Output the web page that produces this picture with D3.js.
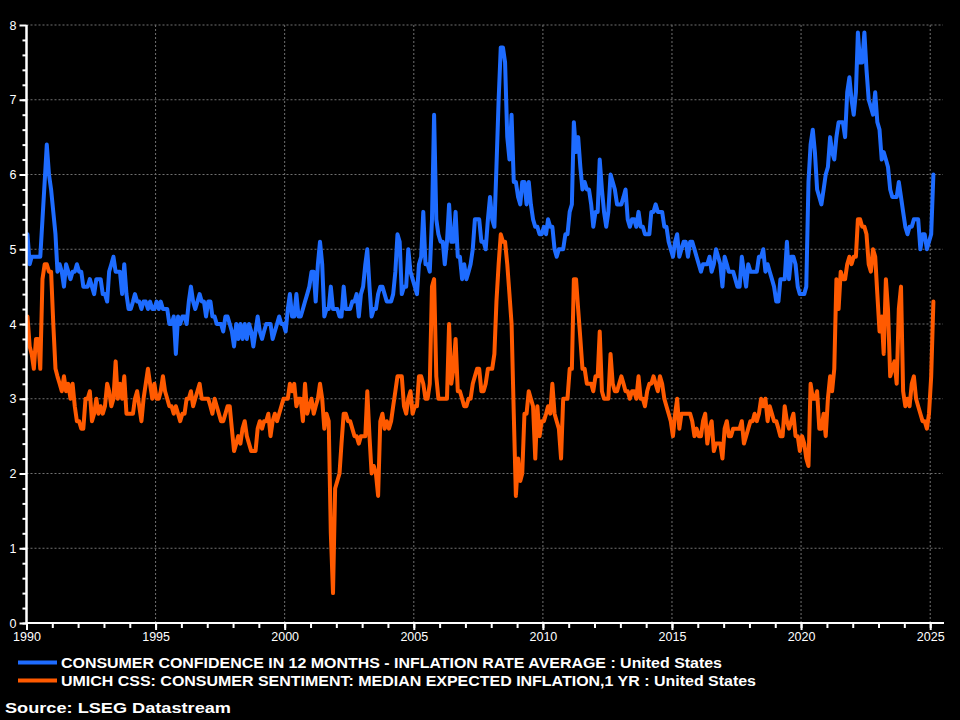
<!DOCTYPE html>
<html>
<head>
<meta charset="utf-8">
<script src="https://cdn.jsdelivr.net/npm/d3@7"></script>
<style>
html,body{margin:0;padding:0;background:#000;}
svg{display:block;}
</style>
</head>
<body>
<svg id="chart" width="960" height="720"></svg>
<script>
// ---------------- DATA (monthly, Jan 1990 - Feb 2025) ----------------
const firstYear = 1990;
const yTickValues = [0, 1, 2, 3, 4, 5, 6, 7, 8];
const xLabelYears = [1990, 1995, 2000, 2005, 2010, 2015, 2020, 2025];
const seriesNames = [
  "CONSUMER CONFIDENCE IN 12 MONTHS - INFLATION RATE AVERAGE : United States",
  "UMICH CSS: CONSUMER SENTIMENT: MEDIAN EXPECTED INFLATION,1 YR : United States"
];
const sourceText = "Source: LSEG Datastream";

// Conference Board: expected inflation rate, 12 months ahead
const confBoardValues = [
  5.2,4.8,4.9,4.9,4.9,4.9,4.9,5.4,5.9,6.4,6.0,5.8, // 1990
  5.5,5.2,4.7,4.8,4.7,4.5,4.8,4.7,4.6,4.7,4.7,4.8, // 1991
  4.7,4.7,4.5,4.5,4.5,4.6,4.5,4.4,4.6,4.6,4.6,4.4, // 1992
  4.4,4.3,4.7,4.8,4.9,4.7,4.7,4.7,4.4,4.8,4.4,4.2, // 1993
  4.2,4.3,4.4,4.3,4.3,4.2,4.3,4.3,4.2,4.3,4.2,4.2, // 1994
  4.3,4.2,4.3,4.2,4.2,4.2,4.0,4.0,4.1,3.6,4.1,4.0, // 1995
  4.1,4.1,4.0,4.3,4.5,4.3,4.2,4.3,4.4,4.3,4.3,4.1, // 1996
  4.3,4.3,4.1,4.1,4.0,4.0,4.0,3.9,4.1,4.1,4.0,3.9, // 1997
  3.7,4.0,3.8,4.0,3.8,4.0,3.8,4.0,3.9,3.7,3.9,4.1, // 1998
  3.9,3.8,3.9,4.0,4.0,4.0,3.8,3.9,4.0,4.1,4.0,4.0, // 1999
  3.9,4.2,4.4,4.1,4.1,4.4,4.1,4.1,4.2,4.3,4.4,4.5, // 2000
  4.7,4.7,4.3,4.8,5.1,4.8,4.1,4.2,4.2,4.5,4.2,4.2, // 2001
  4.2,4.1,4.1,4.5,4.2,4.2,4.2,4.3,4.3,4.4,4.1,4.4, // 2002
  4.5,4.8,5.0,4.5,4.1,4.2,4.2,4.4,4.5,4.5,4.4,4.3, // 2003
  4.3,4.3,4.4,4.7,5.2,5.1,4.4,4.5,4.5,5.0,4.7,4.6, // 2004
  4.5,4.4,4.8,4.9,5.5,4.8,4.8,4.7,5.4,6.8,5.4,5.2, // 2005
  5.1,5.1,4.8,5.1,5.6,5.1,5.1,5.5,4.9,4.9,4.6,4.8, // 2006
  4.6,4.7,4.8,5.0,5.4,5.4,5.4,5.1,5.1,5.0,5.4,5.7, // 2007
  5.4,5.3,6.1,7.0,7.7,7.7,7.5,6.5,6.2,6.8,5.9,5.9, // 2008
  5.7,5.6,5.9,5.9,5.6,5.9,5.6,5.4,5.3,5.3,5.2,5.2, // 2009
  5.3,5.2,5.4,5.3,5.3,5.0,4.9,5.0,5.0,5.0,5.2,5.2, // 2010
  5.5,5.6,6.7,6.3,6.5,6.1,5.8,5.9,5.8,5.8,5.6,5.3, // 2011
  5.5,5.5,6.2,5.8,5.5,5.3,5.5,6.0,5.9,5.8,5.6,5.6, // 2012
  5.6,5.7,5.8,5.4,5.3,5.4,5.4,5.3,5.5,5.3,5.3,5.2, // 2013
  5.2,5.2,5.5,5.5,5.6,5.5,5.5,5.5,5.3,5.3,5.1,5.0, // 2014
  4.9,5.1,5.2,4.9,5.0,5.1,5.1,4.9,5.1,5.1,5.0,4.9, // 2015
  4.8,4.7,4.8,4.8,4.8,4.9,4.7,4.8,5.0,4.9,4.8,4.5, // 2016
  4.9,4.8,4.7,4.7,4.7,4.6,4.5,4.5,4.9,4.7,4.5,4.8, // 2017
  4.7,4.7,4.7,4.7,4.9,4.9,5.0,4.7,4.8,4.7,4.6,4.5, // 2018
  4.3,4.3,4.6,4.6,4.6,5.1,4.6,4.9,4.9,4.8,4.5,4.4, // 2019
  4.4,4.4,4.5,5.9,6.4,6.6,6.3,5.8,5.7,5.6,5.8,6.0, // 2020
  6.1,6.5,6.3,6.2,6.5,6.7,6.7,6.7,6.5,7.1,7.3,7.0, // 2021
  6.8,7.1,7.9,7.5,7.5,7.9,7.4,7.0,6.9,6.8,7.1,6.7, // 2022
  6.6,6.2,6.3,6.2,6.1,5.8,5.7,5.7,5.7,5.9,5.7,5.5, // 2023
  5.3,5.2,5.3,5.3,5.4,5.4,5.4,5.0,5.2,5.2,5.0,5.1, // 2024
  5.2,6.0                                          // 2025
];

// University of Michigan: median expected inflation, 1 year
const umichValues = [
  4.1,3.7,3.6,3.4,3.8,3.8,3.4,4.6,4.8,4.8,4.7,4.7, // 1990
  4.0,3.4,3.3,3.2,3.1,3.3,3.1,3.2,3.0,3.2,2.9,2.7, // 1991
  2.7,2.6,2.6,3.0,3.0,3.1,2.7,2.8,3.0,2.8,2.9,2.8, // 1992
  2.9,3.2,3.1,2.9,3.0,3.5,3.0,3.2,3.0,3.3,2.8,2.8, // 1993
  2.8,2.8,3.0,3.1,2.9,2.7,3.0,3.2,3.4,3.2,3.0,3.2, // 1994
  3.0,3.0,3.1,3.3,3.1,3.0,2.9,2.9,2.8,2.9,2.8,2.7, // 1995
  2.8,2.8,3.0,3.0,3.1,2.9,3.0,3.1,3.2,3.0,3.0,3.0, // 1996
  3.0,2.9,2.8,3.0,2.9,2.8,2.7,2.7,2.8,2.9,2.9,2.6, // 1997
  2.3,2.4,2.5,2.4,2.6,2.7,2.5,2.4,2.3,2.3,2.3,2.6, // 1998
  2.7,2.6,2.7,2.7,2.8,2.5,2.7,2.8,2.7,2.8,2.9,3.0, // 1999
  3.0,3.0,3.2,3.1,3.2,2.9,3.0,3.0,2.7,3.2,2.8,2.9, // 2000
  3.0,2.8,2.9,3.0,3.2,3.0,2.6,2.8,2.7,1.2,0.4,1.8, // 2001
  1.9,2.0,2.4,2.8,2.8,2.7,2.7,2.6,2.5,2.5,2.4,2.5, // 2002
  2.5,2.5,3.1,2.5,2.0,2.1,2.0,1.7,2.7,2.8,2.6,2.7, // 2003
  2.6,2.7,2.9,3.1,3.3,3.3,3.3,2.9,2.8,3.0,3.1,2.8, // 2004
  2.9,2.9,3.3,3.3,3.2,3.0,3.0,3.2,4.5,4.6,3.3,3.0, // 2005
  3.0,3.0,3.0,3.0,4.0,3.2,3.4,3.8,3.1,3.1,3.0,2.9, // 2006
  2.9,3.0,3.0,3.2,3.3,3.4,3.4,3.1,3.1,3.2,3.4,3.4, // 2007
  3.4,3.6,4.3,4.8,5.2,5.1,5.1,4.8,4.4,4.0,2.8,1.7, // 2008
  2.2,1.9,2.0,2.8,2.8,3.1,3.0,2.9,2.2,2.9,2.5,2.7, // 2009
  2.7,2.8,2.9,2.8,3.2,2.8,2.7,2.6,2.2,3.0,3.0,3.0, // 2010
  3.4,3.4,4.6,4.6,4.2,3.8,3.4,3.4,3.2,3.2,3.2,3.1, // 2011
  3.3,3.3,3.9,3.1,3.0,3.0,3.0,3.6,3.2,3.1,3.1,3.2, // 2012
  3.3,3.2,3.1,3.1,3.0,3.1,3.1,3.0,3.3,3.0,3.0,2.9, // 2013
  3.1,3.2,3.2,3.3,3.2,3.1,3.3,3.2,3.0,2.9,2.8,2.7, // 2014
  2.5,2.8,3.0,2.6,2.8,2.8,2.8,2.8,2.8,2.7,2.5,2.6, // 2015
  2.5,2.5,2.7,2.8,2.4,2.6,2.7,2.3,2.4,2.4,2.4,2.2, // 2016
  2.6,2.7,2.5,2.5,2.6,2.6,2.6,2.6,2.7,2.4,2.5,2.6, // 2017
  2.7,2.7,2.8,2.7,2.8,3.0,2.9,3.0,2.7,2.9,2.8,2.7, // 2018
  2.7,2.6,2.5,2.5,2.9,2.7,2.6,2.7,2.8,2.5,2.5,2.3, // 2019
  2.5,2.4,2.2,2.1,3.2,3.0,3.0,3.1,2.6,2.6,2.8,2.5, // 2020
  3.0,3.3,3.1,3.4,4.6,4.2,4.7,4.6,4.6,4.8,4.9,4.8, // 2021
  4.9,4.9,5.4,5.4,5.3,5.3,5.2,4.8,4.7,5.0,4.9,4.4, // 2022
  3.9,4.1,3.6,4.6,4.2,3.3,3.4,3.5,3.2,4.2,4.5,3.1, // 2023
  2.9,3.0,2.9,3.2,3.3,3.0,2.9,2.8,2.7,2.7,2.6,2.8, // 2024
  3.3,4.3                                          // 2025
];

// ---------------- STYLE / LAYOUT ----------------
const W = 960, H = 720;
const plot = { left: 26.5, right: 943, top: 25, bottom: 623 };
const colors = { blue: "#1e6cff", orange: "#ff5a00", grid: "#707070", axis: "#ffffff", text: "#ffffff" };
const tickFont = "'Liberation Sans', Arial, sans-serif";

const svg = d3.select("#chart");
svg.append("rect").attr("width", W).attr("height", H).attr("fill", "#000");

const x = d3.scaleTime()
  .domain([new Date(firstYear, 0, 1), new Date(2025, 6, 1)])
  .range([plot.left, plot.right]);
const y = d3.scaleLinear().domain([0, 8]).range([plot.bottom, plot.top]);

const monthDate = i => new Date(firstYear, i, 15);
const blueData = confBoardValues.map((v, i) => ({ date: monthDate(i), value: v }));
const orangeData = umichValues.map((v, i) => ({ date: monthDate(i), value: v }));

// Grid lines
const grid = svg.append("g").attr("class", "grid");
grid.selectAll("line.h").data(yTickValues.filter(d => d > 0)).join("line")
  .attr("class", "h")
  .attr("x1", plot.left).attr("x2", plot.right)
  .attr("y1", d => y(d)).attr("y2", d => y(d))
  .attr("stroke", colors.grid).attr("stroke-width", 1).attr("stroke-dasharray", "2,2");
grid.selectAll("line.v").data(xLabelYears.filter(d => d > firstYear)).join("line")
  .attr("class", "v")
  .attr("x1", d => x(new Date(d, 0, 1))).attr("x2", d => x(new Date(d, 0, 1)))
  .attr("y1", plot.top).attr("y2", plot.bottom)
  .attr("stroke", colors.grid).attr("stroke-width", 1).attr("stroke-dasharray", "2,2");

// Lines
const line = d3.line().x(d => x(d.date)).y(d => y(d.value));
svg.append("path").datum(blueData)
  .attr("fill", "none").attr("stroke", colors.blue).attr("stroke-width", 4)
  .attr("stroke-linejoin", "round").attr("stroke-linecap", "round").attr("d", line);
svg.append("path").datum(orangeData)
  .attr("fill", "none").attr("stroke", colors.orange).attr("stroke-width", 4)
  .attr("stroke-linejoin", "round").attr("stroke-linecap", "round").attr("d", line);

// X axis: yearly minor ticks + 5-year labelled ticks
const allYears = d3.range(firstYear, 2026).map(yr => new Date(yr, 0, 1));
const xMinor = svg.append("g").attr("transform", `translate(0,${plot.bottom})`)
  .call(d3.axisBottom(x).tickValues(allYears).tickSize(5).tickFormat(""));
const xMajor = svg.append("g").attr("transform", `translate(0,${plot.bottom})`)
  .call(d3.axisBottom(x).tickValues(xLabelYears.map(yr => new Date(yr, 0, 1)))
    .tickSize(7).tickPadding(2).tickFormat(d3.timeFormat("%Y")));
[xMinor, xMajor].forEach(g => {
  g.select(".domain").attr("stroke", colors.axis).attr("stroke-width", 2)
    .attr("d", `M${plot.left},0H${plot.right + 1}`);
  g.selectAll(".tick line").attr("stroke", colors.axis).attr("stroke-width", 2);
  g.selectAll("text").attr("fill", colors.text)
    .style("font-family", tickFont).style("font-size", "12.5px");
});

// Y axis: 0.2 minor ticks + integer labelled ticks
const yMinorVals = d3.range(0, 40).map(i => i / 5);
const yMinor = svg.append("g").attr("transform", `translate(${plot.left},0)`)
  .call(d3.axisLeft(y).tickValues(yMinorVals).tickSize(4).tickFormat(""));
const yMajor = svg.append("g").attr("transform", `translate(${plot.left},0)`)
  .call(d3.axisLeft(y).tickValues(yTickValues).tickSize(7).tickPadding(3).tickFormat(d3.format("d")));
[yMinor, yMajor].forEach(g => {
  g.select(".domain").attr("stroke", colors.axis).attr("stroke-width", 2)
    .attr("d", `M0,${plot.top}V${plot.bottom}`);
  g.selectAll(".tick line").attr("stroke", colors.axis).attr("stroke-width", 2);
  g.selectAll("text").attr("fill", colors.text)
    .style("font-family", tickFont).style("font-size", "12.5px");
});

// Legend
const legendRows = [
  { name: seriesNames[0], color: colors.blue, y: 662.5, width: 661 },
  { name: seriesNames[1], color: colors.orange, y: 680.5, width: 695 }
];
const legend = svg.append("g");
legendRows.forEach(r => {
  legend.append("line").attr("x1", 18).attr("x2", 57).attr("y1", r.y).attr("y2", r.y)
    .attr("stroke", r.color).attr("stroke-width", 4);
  legend.append("text").attr("x", 61).attr("y", r.y + 5.3)
    .attr("fill", colors.text)
    .attr("textLength", r.width).attr("lengthAdjust", "spacingAndGlyphs")
    .style("font-family", tickFont).style("font-size", "14.5px").style("font-weight", "bold")
    .text(r.name);
});

// Source
svg.append("text").attr("x", 5).attr("y", 713)
  .attr("fill", colors.text)
  .attr("textLength", 226).attr("lengthAdjust", "spacingAndGlyphs")
  .style("font-family", tickFont).style("font-size", "15px").style("font-weight", "bold")
  .text(sourceText);
</script>
</body>
</html>
